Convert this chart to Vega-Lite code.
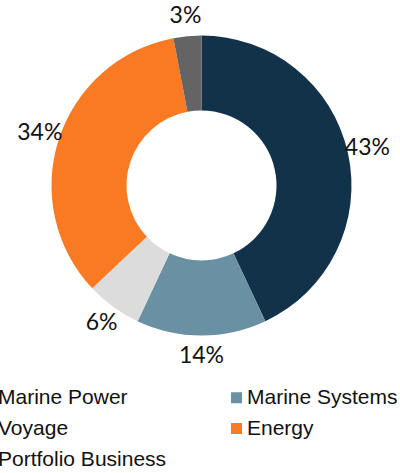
{
  "$schema": "https://vega.github.io/schema/vega-lite/v6.json",
  "width": 397,
  "height": 371,
  "autosize": {"type": "none"},
  "padding": {"left": 3, "top": 0, "right": 0, "bottom": 102},
  "background": "white",
  "config": {"view": {"stroke": null}},
  "data": {
    "values": [
      {"segment": "Marine Power", "share": 0.43, "rank": 1},
      {"segment": "Marine Systems", "share": 0.14, "rank": 2},
      {"segment": "Voyage", "share": 0.06, "rank": 3},
      {"segment": "Energy", "share": 0.34, "rank": 4},
      {"segment": "Portfolio Business", "share": 0.03, "rank": 5}
    ]
  },
  "encoding": {
    "theta": {"field": "share", "type": "quantitative", "stack": true},
    "order": {"field": "rank", "type": "quantitative"}
  },
  "layer": [
    {
      "mark": {"type": "arc", "outerRadius": 150, "innerRadius": 75},
      "encoding": {
        "color": {
          "field": "segment",
          "type": "nominal",
          "scale": {
            "domain": ["Marine Power", "Voyage", "Portfolio Business", "Marine Systems", "Energy"],
            "range": ["#123249", "#dcdcdc", "#646464", "#6a90a3", "#f97a22"]
          },
          "legend": {
            "title": null,
            "orient": "none",
            "legendX": -26,
            "legendY": 387,
            "columns": 2,
            "columnPadding": 59,
            "rowPadding": 9,
            "symbolType": "square",
            "symbolSize": 121,
            "symbolStrokeWidth": 0,
            "labelOffset": 0,
            "labelFont": "Liberation Sans",
            "labelFontSize": 21,
            "labelColor": "#111111",
            "labelLimit": 300
          }
        }
      }
    },
    {
      "mark": {"type": "text", "radius": 170, "font": "Lato", "fontSize": 23, "color": "#111111"},
      "encoding": {
        "text": {"field": "share", "type": "quantitative", "format": ".0%"}
      }
    }
  ]
}
